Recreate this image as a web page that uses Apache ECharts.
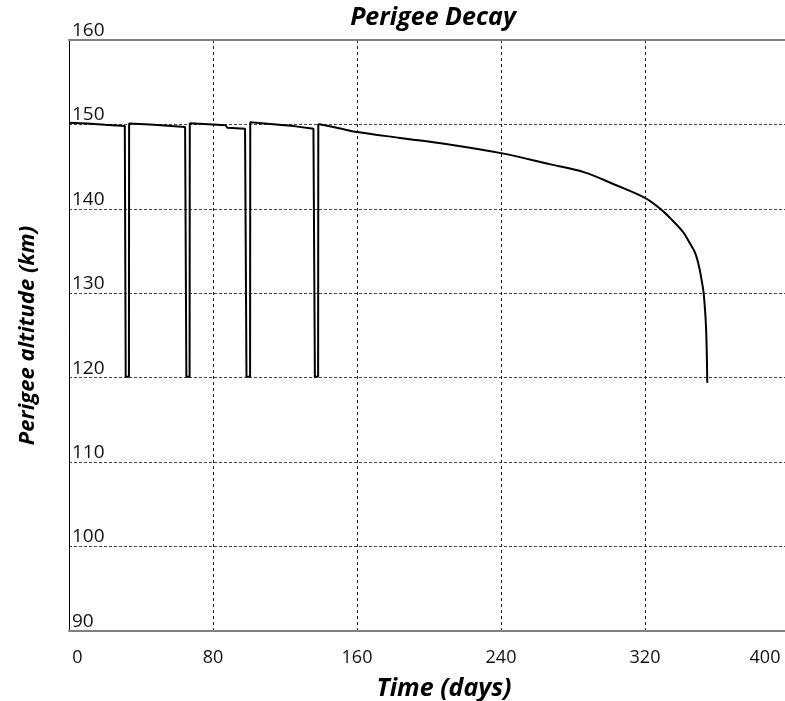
<!DOCTYPE html>
<html>
<head>
<meta charset="utf-8">
<script src="https://cdn.jsdelivr.net/npm/echarts@6/dist/echarts.min.js"></script>
<style>
  html, body { margin: 0; padding: 0; background: #fff; }
  #perigee-chart { width: 785px; height: 701px; }
</style>
</head>
<body>
<div id="perigee-chart"></div>
<script>
/*Perigee Decay*/

// ______Data
// orbit maintenance phase: slow decay, with a re-boost drop/rise at each burn
var burnDays = [
	0, 10, 20, 31, 31.5, 33.3, 33.4,
	45, 55, 64.5, 65.2, 67, 67.1,
	80, 87, 88, 97.8, 98.6, 100.6, 100.7,
	115, 125, 135.8, 136.6, 138.4, 138.5
];
var burnPerigee = [
	150.2, 150.1, 149.95, 149.8, 120.1, 120.1, 150.1,
	150.0, 149.85, 149.7, 120.1, 120.1, 150.15,
	150.0, 149.9, 149.6, 149.5, 120.1, 120.1, 150.25,
	150.0, 149.8, 149.5, 120.1, 120.1, 150.05
];
// free decay phase after the last burn
var decayDays = [
	138.5, 150, 160, 184, 212, 240, 267, 286, 304, 320, 328.5,
	334, 341, 345, 348, 350.2, 351.5, 352.6, 353.9, 354.6
];
var decayPerigee = [
	150.05, 149.55, 149.1, 148.4, 147.6, 146.6, 145.3, 144.35, 142.8, 141.3, 140.0,
	138.9, 137.3, 135.9, 134.7, 133.0, 131.5, 130.0, 126.0, 119.4
];
var xTicks = [0, 80, 160, 240, 320, 400];
var yTicks = [90, 100, 110, 120, 130, 140, 150, 160];

function pairs(xs, ys) {
	return xs.map(function (d, i) { return [d, ys[i]]; });
}

var chart = document.getElementById('perigee-chart');
var lineChart = echarts.init(chart);

var font = "'Open Sans', sans-serif";

var option = {
	animation: false,
	backgroundColor: '#fff',
	title: {
		text: 'Perigee Decay',
		left: 428,
		top: 0,
		textAlign: 'center',
		textStyle: {
			fontFamily: font,
			fontSize: 25,
			fontWeight: 'bold',
			fontStyle: 'italic',
			color: '#000'
		}
	},
	grid: {
		left: 69,
		top: 40,
		width: 720,
		bottom: 70,
		outerBoundsMode: 'none'
	},
	xAxis: [
		{
			type: 'value',
			min: xTicks[0],
			max: xTicks[xTicks.length - 1],
			interval: 80,
			name: 'Time (days)',
			nameLocation: 'middle',
			nameGap: 45,
			nameTextStyle: {
				fontFamily: font,
				fontSize: 25,
				fontWeight: 'bold',
				fontStyle: 'italic',
				color: '#000',
				padding: [0, 0, 0, 30]
			},
			axisLine: { show: true, lineStyle: { color: '#808080', width: 2 } },
			axisTick: { show: false },
			axisLabel: {
				margin: 18,
				fontFamily: font,
				fontSize: 18,
				color: '#111',
				formatter: function (v) {
					if (v === xTicks[0]) return '{first|' + v + '}';
					if (v === xTicks[xTicks.length - 1]) return '{last|' + v + '}';
					return v;
				},
				rich: {
					first: { fontFamily: font, fontSize: 18, color: '#111', padding: [0, 0, 0, 17] },
					last: { fontFamily: font, fontSize: 18, color: '#111', padding: [0, 48, 0, 0] }
				}
			},
			splitLine: {
				show: true,
				lineStyle: { color: '#222', width: 1, type: [3, 3] }
			}
		},
		{
			// top frame line only
			type: 'value',
			position: 'top',
			min: xTicks[0],
			max: xTicks[xTicks.length - 1],
			interval: 80,
			axisLine: { show: true, lineStyle: { color: '#808080', width: 2 } },
			axisTick: { show: false },
			axisLabel: { show: false },
			splitLine: { show: false }
		}
	],
	yAxis: {
		type: 'value',
		min: yTicks[0],
		max: yTicks[yTicks.length - 1],
		interval: 10,
		name: 'Perigee altitude (km)',
		nameLocation: 'middle',
		nameGap: 30,
		nameTextStyle: {
			fontFamily: font,
			fontSize: 22,
			fontWeight: 'bold',
			fontStyle: 'italic',
			color: '#000'
		},
		axisLine: { show: true, lineStyle: { color: '#000', width: 1 } },
		axisTick: { show: false },
		axisLabel: {
			inside: true,
			margin: 3,
			align: 'left',
			verticalAlign: 'bottom',
			fontFamily: font,
			fontSize: 19,
			color: '#111'
		},
		splitLine: {
			show: true,
			lineStyle: { color: '#444', width: 1, type: [3, 2] }
		}
	},
	series: [
		{
			name: 'Burns',
			type: 'line',
			data: pairs(burnDays, burnPerigee),
			showSymbol: false,
			lineStyle: { color: '#000', width: 2 },
			z: 5
		},
		{
			name: 'Decay',
			type: 'line',
			data: pairs(decayDays, decayPerigee),
			showSymbol: false,
			smooth: 0.35,
			lineStyle: { color: '#000', width: 2 },
			z: 5
		}
	]
};

lineChart.setOption(option);

/*Perigee Decay*/
</script>
</body>
</html>
